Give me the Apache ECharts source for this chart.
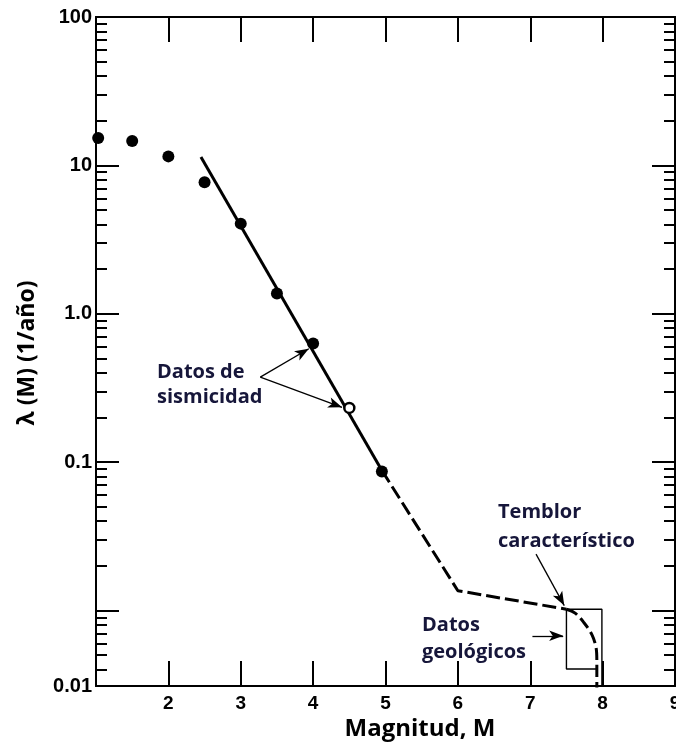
<!DOCTYPE html>
<html>
<head>
<meta charset="utf-8">
<script src="https://cdn.jsdelivr.net/npm/echarts@6/dist/echarts.min.js"></script>
<style>
  html, body { margin: 0; padding: 0; background: #ffffff; }
  #chart { width: 676px; height: 745px; }
</style>
</head>
<body>
<div id="chart"></div>
<script>
// Observed seismicity: magnitude and annual exceedance rate
const seisM    = [1.03, 1.5, 2.0, 2.5, 3.0, 3.5, 4.0, 4.5, 4.95];
const seisRate = [15.3, 14.6, 11.5, 7.7, 4.05, 1.37, 0.63, 0.232, 0.0865];

// Gutenberg-Richter fit through the seismicity (solid part)
const fitM    = [2.45, 4.95];
const fitRate = [11.4, 0.088];

// Extrapolation to the characteristic earthquake (dashed part)
const extrapM    = [4.95, 6.0, 7.5];
const extrapRate = [0.088, 0.0136, 0.0102];

// Roll-off of the characteristic earthquake near the maximum magnitude
const charM    = [7.5, 7.62, 7.74, 7.85, 7.91, 7.92, 7.92];
const charRate = [0.0102, 0.0096, 0.0083, 0.0069, 0.0056, 0.0046, 0.003];

// Range given by the geological data
const geoBoxM    = [7.92, 7.5, 7.5, 7.99, 7.99];
const geoBoxRate = [0.00404, 0.00404, 0.0102, 0.0102, 0.003];

// Axis ticks
const xTicks = [1, 2, 3, 4, 5, 6, 7, 8, 9];
const Y_MIN = 0.0031, Y_MAX = 100;
const yDecades = [0.01, 0.1, 1, 10, 100];
const yLabelValues = [Y_MIN, 0.1, 1, 10, 100];
const yLabelTexts  = ['0.01', '0.1', '1.0', '10', '100'];

const yMinorTicks = [];
[0.001, 0.01, 0.1, 1, 10].forEach(function (d) {
  for (let k = 2; k <= 9; k++) {
    const v = k * d;
    if (v >= Y_MIN && v < Y_MAX) yMinorTicks.push(v);
  }
});

const pair = (xs, ys) => xs.map((x, i) => [x, ys[i]]);

const INK = '#000000';
const NOTE = '#16163a';
const TICK_FONT = '"Liberation Sans", Arial, sans-serif';
const TEXT_FONT = '"Open Sans", "Noto Sans", sans-serif';

function yAxisDef(position, ticks, len, withLabels) {
  return {
    type: 'log', logBase: 10, min: Y_MIN, max: Y_MAX, position: position,
    axisLine: { show: true, lineStyle: { color: INK, width: 2 } },
    axisTick: { show: true, inside: true, length: len, customValues: ticks,
                lineStyle: { color: INK, width: 2 } },
    axisLabel: withLabels ? {
      show: true, customValues: yLabelValues, margin: 4,
      color: INK, fontSize: 20, fontWeight: 'bold', fontFamily: TICK_FONT,
      formatter: function (v) {
        for (let i = 0; i < yLabelValues.length; i++) {
          if (Math.abs(Math.log10(v) - Math.log10(yLabelValues[i])) < 1e-6) return yLabelTexts[i];
        }
        return '';
      }
    } : { show: false },
    splitLine: { show: false }
  };
}

function xAxisDef(position, withLabels) {
  return {
    type: 'value', min: 1, max: 9, interval: 1, position: position,
    axisLine: { show: true, onZero: false, lineStyle: { color: INK, width: 2 } },
    axisTick: { show: true, inside: true, length: 25, customValues: xTicks,
                lineStyle: { color: INK, width: 2 } },
    axisLabel: withLabels ? {
      show: true, margin: 8, color: INK, fontSize: 19, fontWeight: 'bold', fontFamily: TICK_FONT,
      formatter: function (v) { return v === 1 ? '' : String(v); }
    } : { show: false },
    splitLine: { show: false }
  };
}

const chart = echarts.init(document.getElementById('chart'), null, { renderer: 'canvas' });

const arrowLine = { color: INK, width: 1.3, type: 'solid', opacity: 1 };
function arrow(from, to) {
  return [{ coord: from, symbol: 'none' }, { coord: to, symbol: 'arrow' }];
}

chart.setOption({
  backgroundColor: '#ffffff',
  animation: false,
  grid: { left: 96, top: 17, width: 579, bottom: 59, containLabel: false, outerBoundsMode: 'none' },
  xAxis: [xAxisDef('bottom', true), xAxisDef('top', false)],
  yAxis: [
    yAxisDef('left', yDecades, 23, true),
    yAxisDef('left', yMinorTicks, 11, false),
    yAxisDef('right', yDecades, 23, false),
    yAxisDef('right', yMinorTicks, 11, false)
  ],
  series: [
    {
      name: 'Ajuste', type: 'line', data: pair(fitM, fitRate),
      symbol: 'none', lineStyle: { color: INK, width: 3 }, z: 3
    },
    {
      name: 'Extrapolación', type: 'line', data: pair(extrapM, extrapRate),
      symbol: 'none', lineStyle: { color: INK, width: 3, type: [14, 5] }, z: 3
    },
    {
      name: 'Temblor característico', type: 'line', data: pair(charM, charRate),
      symbol: 'none', smooth: 0.35, lineStyle: { color: INK, width: 3, type: [12, 5] }, z: 3
    },
    {
      name: 'Datos geológicos', type: 'line', data: pair(geoBoxM, geoBoxRate),
      symbol: 'none', lineStyle: { color: INK, width: 1.4 }, z: 2
    },
    {
      name: 'Datos de sismicidad', type: 'scatter',
      data: pair(seisM, seisRate).map(function (p, i) {
        return i === 7
          ? { value: p, symbolSize: 10, itemStyle: { color: '#ffffff', borderColor: INK, borderWidth: 2.5, opacity: 1 } }
          : { value: p };
      }),
      symbol: 'circle', symbolSize: 12, itemStyle: { color: INK, opacity: 1 }, z: 5,
      markLine: {
        silent: true, animation: false,
        symbolSize: [8, 14],
        label: { show: false },
        lineStyle: arrowLine,
        data: [
          arrow([3.27, 0.374], [3.94, 0.581]),
          arrow([3.27, 0.374], [4.40, 0.234]),
          arrow([7.08, 0.024], [7.47, 0.0108]),
          arrow([7.03, 0.00676], [7.455, 0.00676])
        ]
      }
    }
  ],
  graphic: [
    { type: 'text', x: 157, y: 372, style: { text: 'Datos de', font: 'bold 20px ' + TEXT_FONT, fill: NOTE, verticalAlign: 'middle' } },
    { type: 'text', x: 157, y: 397, style: { text: 'sismicidad', font: 'bold 20px ' + TEXT_FONT, fill: NOTE, verticalAlign: 'middle' } },
    { type: 'text', x: 498, y: 512, style: { text: 'Temblor', font: 'bold 20px ' + TEXT_FONT, fill: NOTE, verticalAlign: 'middle' } },
    { type: 'text', x: 498, y: 541, style: { text: 'característico', font: 'bold 20px ' + TEXT_FONT, fill: NOTE, verticalAlign: 'middle' } },
    { type: 'text', x: 422, y: 625, style: { text: 'Datos', font: 'bold 20px ' + TEXT_FONT, fill: NOTE, verticalAlign: 'middle' } },
    { type: 'text', x: 422, y: 652, style: { text: 'geológicos', font: 'bold 20px ' + TEXT_FONT, fill: NOTE, verticalAlign: 'middle' } },
    { type: 'text', x: 420, y: 729, style: { text: 'Magnitud, M', font: 'bold 24px ' + TEXT_FONT, fill: INK, align: 'center', verticalAlign: 'middle' } },
    { type: 'text', x: 27, y: 353, rotation: Math.PI / 2,
      style: { text: 'λ (M) (1/año)', font: 'bold 23px ' + TEXT_FONT, fill: INK, align: 'center', verticalAlign: 'middle' } }
  ]
});
</script>
</body>
</html>
